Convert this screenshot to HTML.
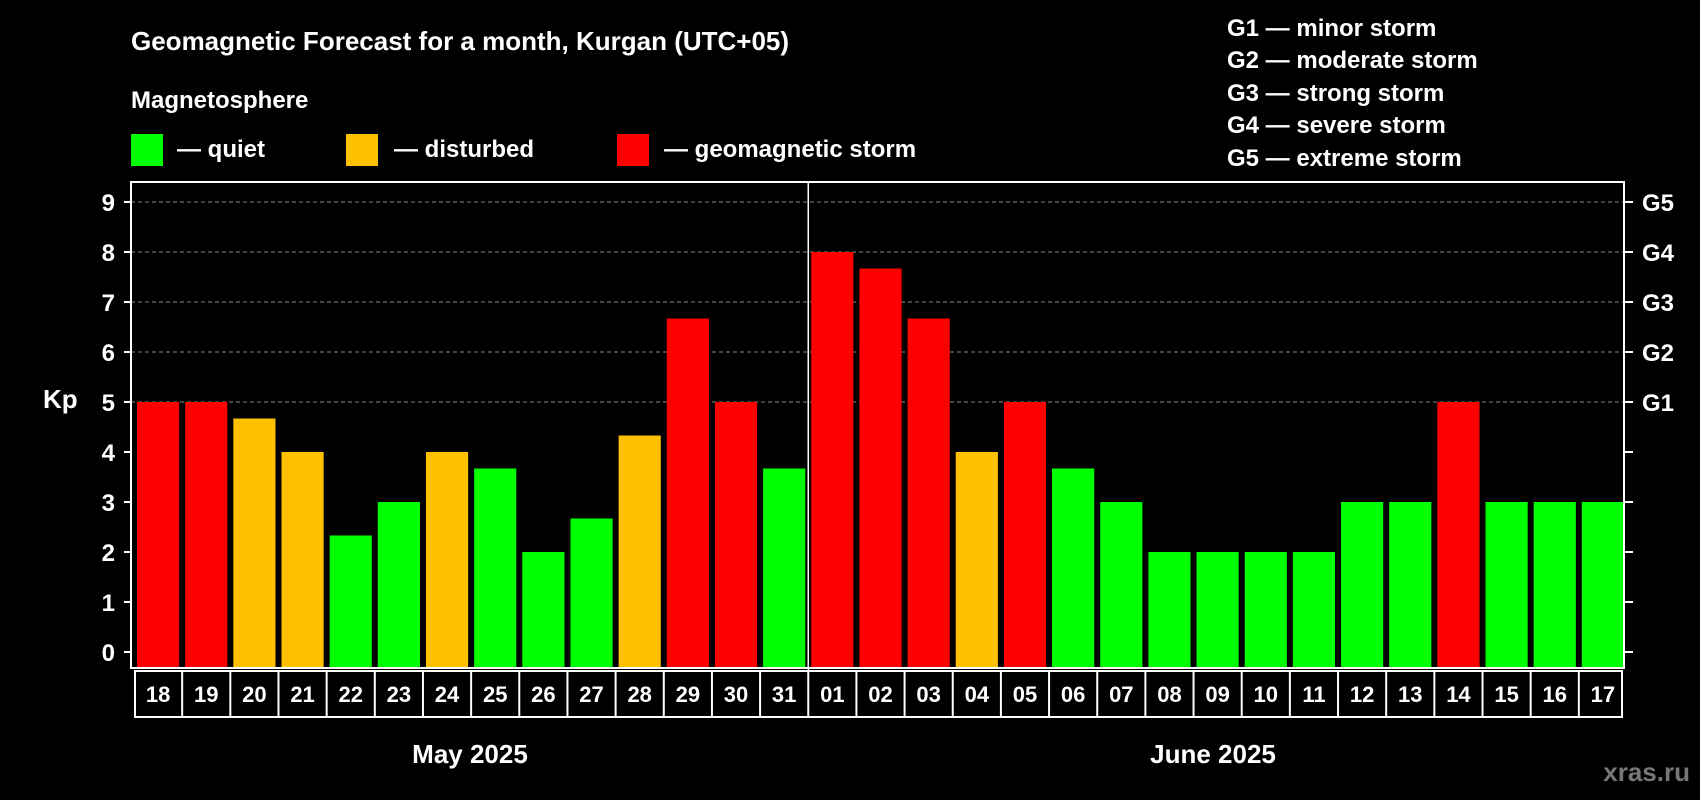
<!DOCTYPE html>
<html><head><meta charset="utf-8"><style>
html,body{margin:0;padding:0;background:#000;width:1700px;height:800px;overflow:hidden}
svg{display:block;font-family:"Liberation Sans",Arial,sans-serif;font-weight:bold}
</style></head><body>
<svg id="c" width="1700" height="800" viewBox="0 0 1700 800">
<text x="131" y="50" fill="#fff" font-size="26">Geomagnetic Forecast for a month, Kurgan (UTC+05)</text>
<text x="131" y="108" fill="#fff" font-size="24">Magnetosphere</text>
<rect x="131" y="134" width="32" height="32" fill="#00ff00"/>
<text x="177" y="157" fill="#fff" font-size="24">— quiet</text>
<rect x="346" y="134" width="32" height="32" fill="#ffc000"/>
<text x="394" y="157" fill="#fff" font-size="24">— disturbed</text>
<rect x="617" y="134" width="32" height="32" fill="#ff0000"/>
<text x="664" y="157" fill="#fff" font-size="24">— geomagnetic storm</text>
<g fill="#fff" font-size="24">
<text x="1227" y="36">G1 — minor storm</text>
<text x="1227" y="68">G2 — moderate storm</text>
<text x="1227" y="101">G3 — strong storm</text>
<text x="1227" y="133">G4 — severe storm</text>
<text x="1227" y="166">G5 — extreme storm</text>
</g>
<text x="43" y="408" fill="#fff" font-size="26">Kp</text>
<text x="470" y="763" fill="#fff" font-size="26" text-anchor="middle">May 2025</text>
<text x="1213" y="763" fill="#fff" font-size="26" text-anchor="middle">June 2025</text>
<text x="1690" y="781" fill="#777" font-size="26" text-anchor="end">xras.ru</text>
<g id="plot"></g>
</svg>
<script>
const days=["18","19","20","21","22","23","24","25","26","27","28","29","30","31","01","02","03","04","05","06","07","08","09","10","11","12","13","14","15","16","17"];
const kpValues=[5,5,4.67,4,2.33,3,4,3.67,2,2.67,4.33,6.67,5,3.67,8,7.67,6.67,4,5,3.67,3,2,2,2,2,3,3,5,3,3,3];
const yTicks=[0,1,2,3,4,5,6,7,8,9];
const gLabels=[[5,"G1"],[6,"G2"],[7,"G3"],[8,"G4"],[9,"G5"]];
const monthSplit=14;
const L=131,R=1624,T=182,B=668,Y0=652,Y9=202;
const NS="http://www.w3.org/2000/svg";
const g=document.getElementById('plot');
function y(v){return Y0+(Y9-Y0)*v/9;}
const pitch=(R-L)/days.length;
function x(i){return L+i*pitch;}
function mk(t,a,p){const e=document.createElementNS(NS,t);for(const k in a)e.setAttribute(k,a[k]);(p||g).appendChild(e);return e;}
function col(v){return v>=5?"#ff0000":(v>=4?"#ffc000":"#00ff00");}
for(let v=5;v<=9;v++){const e=mk('line',{x1:L,x2:R,y1:y(v),y2:y(v),stroke:"#888","stroke-width":1,"stroke-dasharray":"4,3"});

}
kpValues.forEach((v,i)=>{const e=mk('rect',{x:x(i)+6,y:y(v),width:pitch-6,height:B-1-y(v),fill:col(v)});

});
const fr=mk('rect',{x:L,y:T,width:R-L,height:B-T,fill:"none",stroke:"#fff","stroke-width":2});


yTicks.forEach(v=>{mk('line',{x1:L-7,x2:L,y1:y(v),y2:y(v),stroke:"#fff","stroke-width":2});
mk('line',{x1:R,x2:R+9,y1:y(v),y2:y(v),stroke:"#fff","stroke-width":2});
const t=mk('text',{x:L-16,y:y(v)+9,fill:"#fff","font-size":24,"text-anchor":"end"});t.textContent=v;

});
gLabels.forEach(([v,s])=>{const t=mk('text',{x:R+18,y:y(v)+9,fill:"#fff","font-size":24});t.textContent=s;

});
const bx=mk('rect',{x:x(0)+4,y:B+3,width:R-2-x(0)-4,height:46,fill:"none",stroke:"#fff","stroke-width":2});


days.forEach((d,i)=>{if(i>0)mk('line',{x1:x(i)+3,x2:x(i)+3,y1:B+3,y2:B+49,stroke:"#fff","stroke-width":2});
const t=mk('text',{x:x(i)+3+pitch/2,y:B+34,fill:"#fff","font-size":22,"text-anchor":"middle"});t.textContent=d;

});
const dv=mk('line',{x1:x(monthSplit)+3,x2:x(monthSplit)+3,y1:T,y2:B+49,stroke:"#fff","stroke-width":1.5});


</script>
</body></html>
